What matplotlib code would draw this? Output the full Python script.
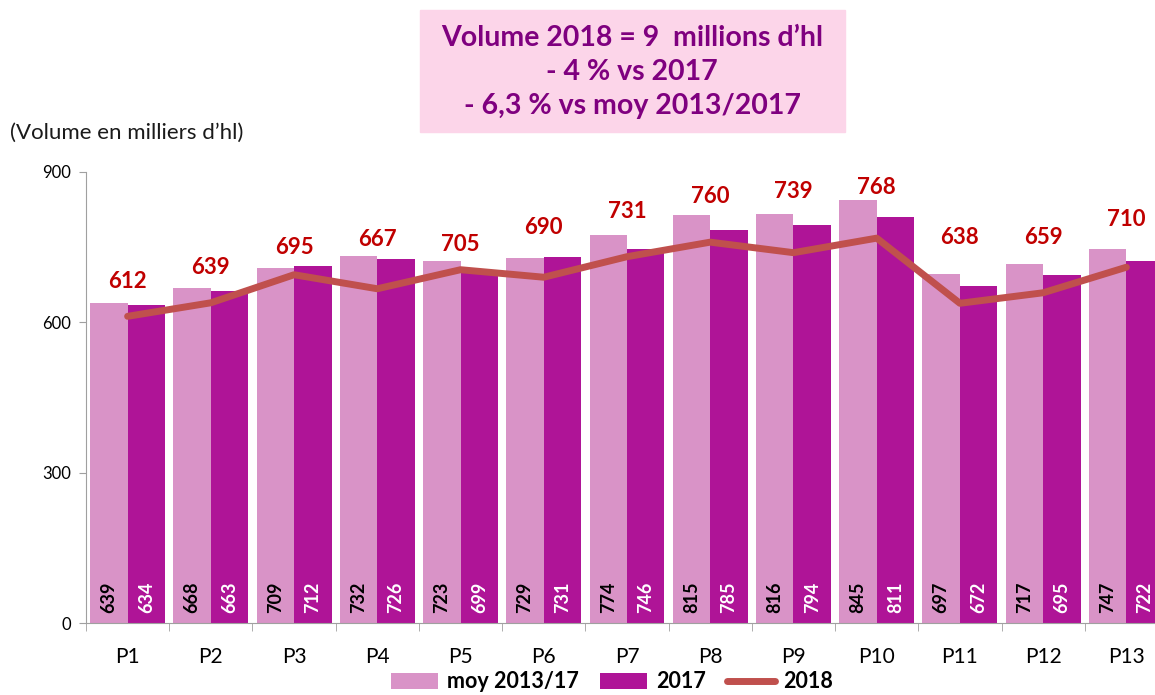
import matplotlib.pyplot as plt
import numpy as np

periods = ["P1", "P2", "P3", "P4", "P5", "P6", "P7", "P8", "P9", "P10", "P11", "P12", "P13"]
moy_2013_17 = [639, 668, 709, 732, 723, 729, 774, 815, 816, 845, 697, 717, 747]
vol_2017 = [634, 663, 712, 726, 699, 731, 746, 785, 794, 811, 672, 695, 722]
vol_2018 = [612, 639, 695, 667, 705, 690, 731, 760, 739, 768, 638, 659, 710]
y_ticks = [0, 300, 600, 900]

# where the 2018 labels sit (data units, as placed in the original)
LABEL_Y = [682, 710, 750, 766, 756, 790, 822, 852, 862, 870, 770, 770, 806]

LIGHT = '#D993C7'
DARK = '#AF1497'
LINE = '#C0504D'
LABEL_RED = '#C00000'
TITLE_PURPLE = '#7F007F'

plt.rcParams['font.family'] = ['Lato', 'DejaVu Sans']

fig = plt.figure(figsize=(11.55, 6.95), dpi=100)
ax = fig.add_axes([86 / 1155, 72 / 695, 1082 / 1155, 451 / 695])

x = np.arange(len(periods))
w = 0.45
b1 = ax.bar(x - w / 2, moy_2013_17, width=w, color=LIGHT, label='moy 2013/17', zorder=2)
b2 = ax.bar(x + w / 2, vol_2017, width=w, color=DARK, label='2017', zorder=2)
ln, = ax.plot(x, vol_2018, color=LINE, linewidth=5, solid_capstyle='round',
              label='2018', zorder=3)

# values inside bars, rotated
for bar, v in zip(b1, moy_2013_17):
    ax.text(bar.get_x() + bar.get_width() / 2, 20, str(v), rotation=90,
            ha='center', va='bottom', fontsize=13, fontweight='bold',
            color='black', zorder=4)
for bar, v in zip(b2, vol_2017):
    ax.text(bar.get_x() + bar.get_width() / 2, 20, str(v), rotation=90,
            ha='center', va='bottom', fontsize=13, fontweight='bold',
            color='white', zorder=4)

# 2018 labels above the line
for xi, v, ly in zip(x, vol_2018, LABEL_Y):
    ax.text(xi, ly, str(v), ha='center', va='center', fontsize=16,
            fontweight='bold', color=LABEL_RED, zorder=5)

ax.set_xlim(-0.5, len(periods) - 0.5)
ax.set_ylim(0, 900)
ax.set_yticks(y_ticks)
ax.tick_params(axis='y', labelsize=12, length=5, color='#A0A0A0', pad=6)

ax.set_xticks(x)
ax.set_xticklabels(periods, fontsize=15)
ax.set_xticks(np.arange(-0.5, len(periods), 1), minor=True)
ax.tick_params(axis='x', which='major', length=0, pad=17)
ax.tick_params(axis='x', which='minor', length=6, color='#A0A0A0')

for s in ['top', 'right']:
    ax.spines[s].set_visible(False)
for s in ['left', 'bottom']:
    ax.spines[s].set_color('#A0A0A0')

fig.text(10 / 1155, 1 - 133 / 695, "(Volume en milliers d\u2019hl)", fontsize=16,
         ha='left', va='center', color='#1a1a1a')

# title box
fig.patches.append(plt.Rectangle((420 / 1155, 1 - 132 / 695), 425 / 1155, 122 / 695,
                                 transform=fig.transFigure, color='#FCD5E9', zorder=0))
fig.text(632 / 1155, 1 - 72 / 695,
         "Volume 2018 = 9  millions d\u2019hl\n- 4 % vs 2017\n- 6,3 % vs moy 2013/2017",
         ha='center', va='center', fontsize=20.5, fontweight='bold',
         color=TITLE_PURPLE, linespacing=1.4)

leg = fig.legend(handles=[b1, b2, ln], loc='center', bbox_to_anchor=(612 / 1155, 1 - 682 / 695),
                 ncol=3, frameon=False, fontsize=15.5, handlelength=2.2, columnspacing=1.0,
                 handletextpad=0.4, borderpad=0.1)
for t in leg.get_texts():
    t.set_fontweight('bold')

fig.savefig('out.png', dpi=100)
